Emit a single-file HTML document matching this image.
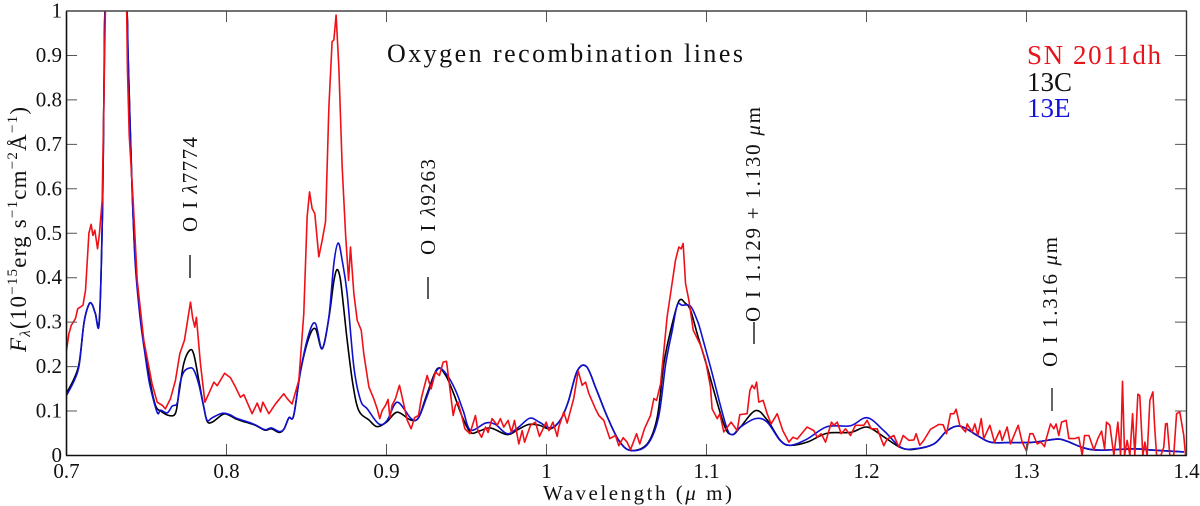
<!DOCTYPE html>
<html lang="en">
<head>
<meta charset="utf-8">
<title>Oxygen recombination lines</title>
<style>
html,body{margin:0;padding:0;background:#fff;}
svg{display:block;font-family:"Liberation Serif",serif;}
</style>
</head>
<body>
<svg id="chart" xmlns="http://www.w3.org/2000/svg" width="1200" height="506" viewBox="0 0 1200 506">
<rect x="0" y="0" width="1200" height="506" fill="#fff"/>
<defs><clipPath id="plot-clip"><rect x="66.5" y="11" width="1120" height="444"/></clipPath></defs>
<g id="series" clip-path="url(#plot-clip)"></g>
<g id="ticks"></g>
<path d="M66.5 11V455.5" stroke="#111" stroke-width="1.6" fill="none"/>
<path d="M66 455.5H1187" stroke="#111" stroke-width="1.6" fill="none"/>
<path d="M66 11H1187" stroke="#444" stroke-width="1.4" fill="none"/>
<path d="M1186.5 11V455.5" stroke="#333" stroke-width="1.4" fill="none"/>
<g id="tick-labels" font-size="21" fill="#111"></g>

<text transform="translate(26,352) rotate(-90)" font-size="23" fill="#111" textLength="245" lengthAdjust="spacing"><tspan font-style="italic">F</tspan><tspan font-size="15" font-style="italic" dy="4">λ</tspan><tspan dy="-4">(10</tspan><tspan font-size="15" dy="-9">−15</tspan><tspan dy="9">erg s</tspan><tspan font-size="15" dy="-9">−1</tspan><tspan dy="9">cm</tspan><tspan font-size="15" dy="-9">−2</tspan><tspan dy="9">Å</tspan><tspan font-size="15" dy="-9">−1</tspan><tspan dy="9">)</tspan></text>
<text x="543" y="500" font-size="21" fill="#111" textLength="189" lengthAdjust="spacing">Wavelength (<tspan font-style="italic">μ</tspan> m)</text>
<text x="387" y="62" font-size="26" fill="#111" textLength="356" lengthAdjust="spacing">Oxygen recombination lines</text>

<g font-size="27">
<text x="1027" y="64" fill="#e8141c" textLength="134" lengthAdjust="spacing">SN 2011dh</text>
<text x="1027" y="91" fill="#111">13C</text>
<text x="1027" y="117" fill="#1414d8">13E</text>
</g>

<g font-size="21" fill="#111">
<text transform="translate(197,232) rotate(-90)" textLength="95" lengthAdjust="spacing">O I <tspan font-style="italic">λ</tspan>7774</text>
<path d="M190 255V278" stroke="#222" stroke-width="1.5"/>
<text transform="translate(435,255) rotate(-90)" textLength="96" lengthAdjust="spacing">O I <tspan font-style="italic">λ</tspan>9263</text>
<path d="M428 277V299" stroke="#222" stroke-width="1.5"/>
<text transform="translate(760,322) rotate(-90)" textLength="215" lengthAdjust="spacing">O I 1.129 + 1.130 <tspan font-style="italic">μ</tspan>m</text>
<path d="M754 322V344" stroke="#222" stroke-width="1.5"/>
<text transform="translate(1057,367) rotate(-90)" textLength="130" lengthAdjust="spacing">O I 1.316 <tspan font-style="italic">μ</tspan>m</text>
<path d="M1052 388V411" stroke="#333" stroke-width="1.5"/>
</g>
</svg>
<script>
// Axis ticks and labels
const xTicks = [0.7, 0.8, 0.9, 1, 1.1, 1.2, 1.3, 1.4];
const yTicks = [0, 0.1, 0.2, 0.3, 0.4, 0.5, 0.6, 0.7, 0.8, 0.9, 1];

// 13C (black)
const blackWave = [0.700,0.705,0.708,0.711,0.714,0.716,0.718,0.7205,0.7225,0.7235,0.7245,0.731,0.7375,0.7385,0.741,0.743,0.746,0.749,0.752,0.7556,0.7588,0.764,0.7681,0.7702,0.7733,0.7771,0.7796,0.7827,0.7858,0.7879,0.7911,0.798,0.802,0.806,0.812,0.818,0.824,0.828,0.833,0.836,0.839,0.842,0.8463,0.8515,0.8556,0.8598,0.864,0.867,0.869,0.871,0.873,0.8754,0.879,0.8827,0.889,0.894,0.900,0.9067,0.915,0.920,0.925,0.9317,0.937,0.942,0.947,0.9525,0.958,0.965,0.9754,0.982,0.989,0.9955,1.0025,1.0087,1.0135,1.0192,1.025,1.031,1.038,1.0452,1.0525,1.0629,1.0692,1.0733,1.0775,1.0827,1.0869,1.090,1.0942,1.1004,1.1108,1.116,1.1212,1.1306,1.1379,1.1462,1.1525,1.1629,1.1754,1.19,1.2004,1.2108,1.2212,1.2296,1.2421,1.2504,1.2587,1.2692,1.2775,1.29,1.3046,1.3192,1.3254,1.3358,1.3463,1.3671,1.3796,1.3983];
const blackFlux = [0.14,0.175,0.21,0.30,0.34,0.34,0.32,0.305,0.55,0.85,1.05,1.5,1.03,0.9,0.6,0.44,0.32,0.24,0.17,0.113,0.100,0.09,0.095,0.138,0.207,0.237,0.227,0.169,0.109,0.077,0.075,0.093,0.09,0.082,0.075,0.068,0.057,0.06,0.052,0.06,0.085,0.09,0.19,0.265,0.285,0.24,0.31,0.39,0.418,0.40,0.34,0.26,0.16,0.101,0.08,0.065,0.075,0.0975,0.08,0.085,0.135,0.195,0.18,0.139,0.09,0.052,0.055,0.062,0.047,0.058,0.07,0.068,0.06,0.08,0.12,0.19,0.2,0.15,0.087,0.034,0.0113,0.026,0.086,0.206,0.28,0.347,0.342,0.327,0.274,0.199,0.071,0.047,0.064,0.101,0.08,0.034,0.023,0.03,0.05,0.052,0.064,0.042,0.018,0.014,0.026,0.056,0.066,0.045,0.03,0.029,0.03,0.037,0.032,0.017,0.012,0.015,0.012,0.008];

// 13E (blue)
const blueWave = [0.700,0.705,0.708,0.711,0.714,0.716,0.718,0.7205,0.7225,0.7235,0.7245,0.731,0.7375,0.7385,0.741,0.743,0.746,0.749,0.752,0.7567,0.7588,0.763,0.766,0.7692,0.7708,0.7733,0.7771,0.7796,0.7827,0.7858,0.7879,0.7911,0.7973,0.802,0.806,0.812,0.818,0.824,0.828,0.833,0.836,0.839,0.842,0.8463,0.8515,0.8556,0.8598,0.864,0.8671,0.8698,0.8723,0.8754,0.8796,0.8838,0.888,0.8952,0.9004,0.9067,0.9154,0.920,0.925,0.9317,0.937,0.9431,0.948,0.9525,0.9619,0.968,0.9754,0.982,0.9896,0.9955,1.0025,1.0087,1.0135,1.0192,1.025,1.031,1.038,1.0452,1.0525,1.0629,1.07,1.0745,1.0785,1.0817,1.0848,1.09,1.0942,1.0962,1.1025,1.1119,1.116,1.1212,1.1306,1.1379,1.1462,1.1525,1.1629,1.1754,1.19,1.2004,1.2108,1.2212,1.2296,1.2421,1.2504,1.2587,1.2692,1.2775,1.29,1.3046,1.3192,1.3254,1.3358,1.3463,1.3671,1.3796,1.3983];
const blueFlux = [0.135,0.17,0.205,0.30,0.34,0.34,0.32,0.30,0.55,0.85,1.05,1.5,1.03,0.9,0.6,0.43,0.31,0.23,0.16,0.097,0.102,0.096,0.111,0.118,0.16,0.188,0.197,0.192,0.16,0.109,0.079,0.085,0.095,0.092,0.084,0.077,0.069,0.058,0.062,0.054,0.06,0.085,0.09,0.191,0.274,0.297,0.24,0.312,0.432,0.478,0.439,0.364,0.199,0.124,0.105,0.071,0.079,0.12,0.083,0.085,0.13,0.193,0.185,0.147,0.10,0.057,0.073,0.07,0.049,0.062,0.084,0.075,0.062,0.08,0.12,0.19,0.2,0.15,0.087,0.034,0.0113,0.024,0.086,0.206,0.28,0.338,0.338,0.336,0.304,0.282,0.199,0.071,0.047,0.064,0.083,0.075,0.033,0.023,0.037,0.065,0.067,0.085,0.056,0.019,0.015,0.026,0.056,0.066,0.045,0.03,0.029,0.03,0.037,0.032,0.017,0.012,0.015,0.012,0.008];

// SN 2011dh (red)
const redWave = [0.700,0.7015,0.703,0.7056,0.707,0.7103,0.7119,0.7140,0.7154,0.7165,0.7177,0.7194,0.7206,0.7223,0.7244,0.731,0.7375,0.7381,0.7392,0.7417,0.7442,0.7483,0.7535,0.7567,0.7598,0.7618,0.765,0.7681,0.7708,0.7737,0.7775,0.7789,0.7802,0.7812,0.7837,0.7865,0.7889,0.7921,0.7942,0.7988,0.8025,0.8056,0.8087,0.8108,0.816,0.8192,0.8213,0.8227,0.8265,0.8306,0.8358,0.8379,0.841,0.8452,0.8483,0.8504,0.8519,0.8535,0.8552,0.8577,0.8598,0.8619,0.864,0.866,0.8671,0.8685,0.8702,0.8723,0.8744,0.8763,0.8775,0.8796,0.8817,0.8842,0.8858,0.889,0.892,0.8942,0.8958,0.8973,0.8994,0.9010,0.9021,0.9035,0.9056,0.9081,0.9098,0.913,0.9154,0.9175,0.92,0.9219,0.9254,0.9279,0.9306,0.9331,0.9354,0.9375,0.939,0.9417,0.9431,0.9446,0.9467,0.949,0.9521,0.9556,0.9571,0.9594,0.9619,0.9635,0.966,0.9692,0.9712,0.9733,0.976,0.9781,0.98,0.9827,0.9848,0.9863,0.99,0.9931,0.9956,0.9998,1.0015,1.004,1.0067,1.0077,1.0108,1.0129,1.017,1.0198,1.0223,1.0244,1.0265,1.0306,1.0327,1.0358,1.0396,1.0431,1.0452,1.0479,1.0504,1.0525,1.0563,1.0583,1.0612,1.065,1.0671,1.0688,1.0713,1.0754,1.0806,1.0827,1.0842,1.0854,1.0869,1.089,1.0917,1.0963,1.0994,1.1025,1.1035,1.1067,1.1083,1.1108,1.1154,1.1192,1.1208,1.1254,1.1271,1.1285,1.13,1.1313,1.1327,1.1354,1.1379,1.1404,1.1442,1.1477,1.1515,1.154,1.1567,1.1629,1.1671,1.1692,1.1717,1.1744,1.1781,1.1796,1.1817,1.1842,1.1869,1.19,1.1931,1.1983,1.2004,1.2029,1.2067,1.2108,1.2129,1.2171,1.2202,1.2229,1.2265,1.2296,1.231,1.2333,1.2358,1.24,1.2452,1.2479,1.25,1.2525,1.2546,1.256,1.2583,1.2619,1.2629,1.266,1.2677,1.2696,1.2717,1.2733,1.2771,1.28,1.2833,1.2848,1.2879,1.29,1.2948,1.2973,1.3,1.3021,1.304,1.3067,1.309,1.3113,1.3123,1.315,1.3171,1.3185,1.3202,1.3219,1.3248,1.3265,1.33,1.3327,1.3348,1.3363,1.339,1.3421,1.3446,1.3469,1.3488,1.35,1.3521,1.3546,1.3571,1.3588,1.36,1.3613,1.3629,1.3646,1.3663,1.3677,1.3696,1.3708,1.3727,1.374,1.3754,1.3771,1.379,1.38,1.3813,1.384,1.3858,1.3869,1.3879,1.3896,1.392,1.3938,1.3958,1.3983,1.3994];
const redFlux = [0.236,0.274,0.293,0.308,0.33,0.338,0.372,0.5,0.52,0.495,0.507,0.465,0.5,0.574,1.02,1.5,1.03,0.867,0.72,0.57,0.394,0.259,0.161,0.12,0.113,0.105,0.128,0.169,0.229,0.259,0.345,0.308,0.289,0.311,0.207,0.12,0.139,0.165,0.157,0.185,0.175,0.154,0.131,0.137,0.094,0.118,0.098,0.12,0.094,0.116,0.139,0.128,0.116,0.169,0.319,0.537,0.593,0.556,0.544,0.447,0.484,0.526,0.785,0.931,0.935,0.991,0.875,0.649,0.499,0.394,0.469,0.364,0.304,0.282,0.229,0.154,0.128,0.105,0.083,0.101,0.113,0.126,0.085,0.113,0.128,0.158,0.131,0.079,0.06,0.085,0.09,0.131,0.18,0.15,0.188,0.18,0.21,0.212,0.169,0.09,0.113,0.12,0.094,0.06,0.049,0.09,0.056,0.041,0.064,0.052,0.083,0.068,0.083,0.064,0.079,0.052,0.079,0.026,0.056,0.03,0.068,0.075,0.043,0.075,0.056,0.075,0.043,0.064,0.098,0.073,0.128,0.19,0.158,0.165,0.139,0.105,0.09,0.079,0.038,0.045,0.022,0.04,0.03,0.013,0.049,0.026,0.06,0.09,0.128,0.124,0.161,0.312,0.439,0.469,0.465,0.477,0.387,0.349,0.282,0.248,0.214,0.154,0.105,0.083,0.094,0.053,0.075,0.056,0.092,0.094,0.146,0.158,0.15,0.165,0.12,0.124,0.094,0.071,0.094,0.056,0.03,0.041,0.037,0.064,0.056,0.041,0.049,0.03,0.075,0.068,0.075,0.049,0.06,0.045,0.068,0.068,0.079,0.06,0.06,0.022,0.037,0.045,0.019,0.045,0.034,0.035,0.049,0.023,0.034,0.059,0.07,0.069,0.049,0.094,0.094,0.104,0.068,0.053,0.071,0.053,0.071,0.045,0.083,0.038,0.068,0.03,0.056,0.034,0.064,0.026,0.068,0.03,0.01,0.049,0.049,0.026,0.03,0.02,0.037,0.071,0.06,0.071,0.045,0.075,0.079,0.038,0.038,0.041,0,0.045,0.045,0.013,0.038,0.055,0.015,0.075,0.068,0,0.075,0,0.167,0,0.034,0,0.094,0,0.138,0.135,0,0.03,0,0.124,0.143,0.071,0,0,0.019,0.071,0.072,0,0,0.094,0.098,0.045,0];

const NS = 'http://www.w3.org/2000/svg';
const xScale = w => 66.5 + (w - 0.7) * 1600;
const yScale = f => 455.5 - f * 444.5;

function linePath(wave, flux) {
  const n = Math.min(wave.length, flux.length);
  let d = '';
  for (let i = 0; i < n; i++) {
    d += (i ? 'L' : 'M') + xScale(wave[i]).toFixed(2) + ' ' + yScale(flux[i]).toFixed(2);
  }
  return d;
}

function smoothPath(wave, flux) {
  const n = Math.min(wave.length, flux.length);
  const p = [];
  for (let i = 0; i < n; i++) p.push([xScale(wave[i]), yScale(flux[i])]);
  let d = 'M' + p[0][0].toFixed(2) + ' ' + p[0][1].toFixed(2);
  for (let i = 0; i < n - 1; i++) {
    const a = p[Math.max(i - 1, 0)], b = p[i], c = p[i + 1], e = p[Math.min(i + 2, n - 1)];
    const c1x = b[0] + (c[0] - a[0]) / 6, c1y = b[1] + (c[1] - a[1]) / 6;
    const c2x = c[0] - (e[0] - b[0]) / 6, c2y = c[1] - (e[1] - b[1]) / 6;
    d += 'C' + c1x.toFixed(2) + ' ' + c1y.toFixed(2) + ' ' + c2x.toFixed(2) + ' ' + c2y.toFixed(2) + ' ' + c[0].toFixed(2) + ' ' + c[1].toFixed(2);
  }
  return d;
}

const seriesGroup = document.getElementById('series');

const blackLine = document.createElementNS(NS, 'path');


blackLine.setAttribute('d', smoothPath(blackWave, blackFlux));
blackLine.setAttribute('fill', 'none');
blackLine.setAttribute('stroke', '#000');
blackLine.setAttribute('stroke-width', '1.6');
seriesGroup.appendChild(blackLine);

const blueLine = document.createElementNS(NS, 'path');


blueLine.setAttribute('d', smoothPath(blueWave, blueFlux));
blueLine.setAttribute('fill', 'none');
blueLine.setAttribute('stroke', '#1010d0');
blueLine.setAttribute('stroke-width', '1.6');
seriesGroup.appendChild(blueLine);

const redLine = document.createElementNS(NS, 'path');


redLine.setAttribute('d', linePath(redWave, redFlux));
redLine.setAttribute('fill', 'none');
redLine.setAttribute('stroke', '#f01018');
redLine.setAttribute('stroke-width', '1.6');
redLine.setAttribute('stroke-linejoin', 'round');
seriesGroup.appendChild(redLine);

const tickGroup = document.getElementById('ticks');
const labelGroup = document.getElementById('tick-labels');

xTicks.forEach(t => {
  const x = xScale(t);
  const tick = document.createElementNS(NS, 'path');
  
  
  tick.setAttribute('d', 'M' + x + ' 11v11M' + x + ' 455v-11');
  tick.setAttribute('stroke', '#555');
  tick.setAttribute('stroke-width', '1');
  tick.setAttribute('fill', 'none');
  tickGroup.appendChild(tick);
  const label = document.createElementNS(NS, 'text');
  
  
  label.setAttribute('x', x);
  label.setAttribute('y', 478);
  label.setAttribute('text-anchor', 'middle');
  label.textContent = String(t);
  labelGroup.appendChild(label);
});

yTicks.forEach(t => {
  const y = yScale(t);
  const tick = document.createElementNS(NS, 'path');
  
  
  tick.setAttribute('d', 'M66 ' + y + 'h11M1186 ' + y + 'h-11');
  tick.setAttribute('stroke', '#555');
  tick.setAttribute('stroke-width', '1');
  tick.setAttribute('fill', 'none');
  tickGroup.appendChild(tick);
  const label = document.createElementNS(NS, 'text');
  
  
  label.setAttribute('x', 62);
  label.setAttribute('y', y + 6.5);
  label.setAttribute('text-anchor', 'end');
  label.textContent = String(t);
  labelGroup.appendChild(label);
});
</script>
</body>
</html>
